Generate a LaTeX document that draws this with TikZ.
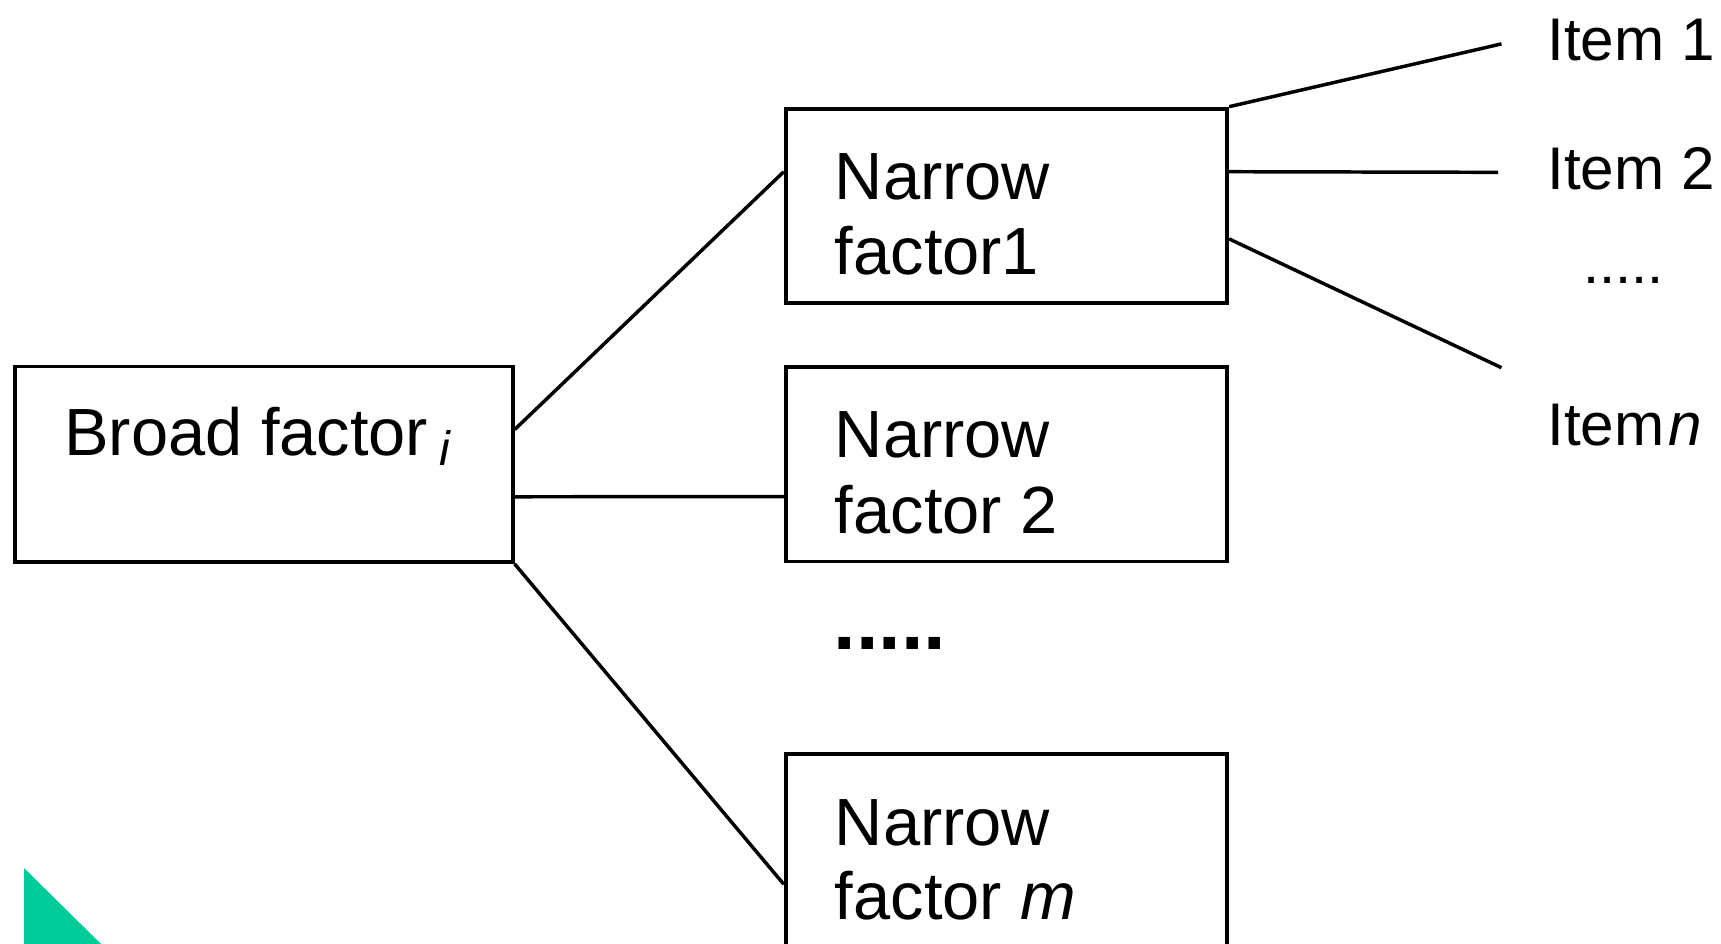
\documentclass[tikz,border=0pt]{standalone}
\usepackage{fontspec}
\setmainfont{Liberation Sans}
\usetikzlibrary{calc}
\definecolor{accent}{RGB}{0,204,153}
\tikzset{
  box/.style={draw, line width=1pt, inner sep=0pt, minimum width=4.02cm, minimum height=1.77cm},
  txt/.style={anchor=base west, inner sep=0pt, font=\fontsize{17.3}{19.3}\selectfont},
  itemtxt/.style={txt, font=\fontsize{15.6}{17}\selectfont},
  conn/.style={line width=0.9pt},
}
\begin{document}
\begin{tikzpicture}[x=0.01cm, y=-0.01cm]
\useasboundingbox (0,0) rectangle (1568,860);
% boxes
\node[box, minimum width=4.53cm, minimum height=1.78cm] (broad) at (240.5,423) {};
\node[box] (n1) at (917,187.5) {};
\node[box] (n2) at (917,423) {};
\node[box] (nm) at (917,775.5) {};
% texts
\node[txt] (tb) at (58,415) {Broad factor\kern3pt\raisebox{-2.6pt}{\fontsize{12.5}{12.5}\selectfont\itshape i}};
\node[txt] (t1a) at (760,182) {Narrow};
\node[txt] (t1b) at (760,250) {factor1};
\node[txt] (t2a) at (760,417) {Narrow};
\node[txt] (t2b) at (760,486) {factor 2};
\node[txt] (tma) at (760,770) {Narrow};
\node[txt] (tmb) at (760,838) {factor \textit{m}};
\node[txt, font=\fontsize{21}{21}\selectfont\bfseries] (dm) at (759,592) {.....};
% items
\node[itemtxt] (i1) at (1409,55) {Item 1};
\node[itemtxt] (i2) at (1409,173) {Item 2};
\node[itemtxt, font=\fontsize{15}{15}\selectfont] (id) at (1442,258) {.....};
\node[itemtxt] (in) at (1409,406) {Item\kern1pt\textit{n}};
% free ends
\coordinate (e1) at (1368,40);
\coordinate (e2) at (1365,157);
\coordinate (en) at (1368,335);
% connectors
\draw[conn] ($(broad.north east)!0.326!(broad.south east)$) -- ($(n1.north west)!0.328!(n1.south west)$);
\draw[conn] ($(broad.north east)!0.663!(broad.south east)$) -- ($(n2.north west)!0.663!(n2.south west)$);
\draw[conn] (broad.south east) -- ($(nm.north west)!0.667!(nm.south west)$);
\draw[conn] (n1.north east) -- (e1);
\draw[conn] ($(n1.north east)!0.328!(n1.south east)$) -- (e2);
\draw[conn] ($(n1.north east)!0.667!(n1.south east)$) -- (en);
% accent triangle
\fill[accent] (22,791) -- (22,860) -- (92,860) -- cycle;
\end{tikzpicture}
\end{document}
